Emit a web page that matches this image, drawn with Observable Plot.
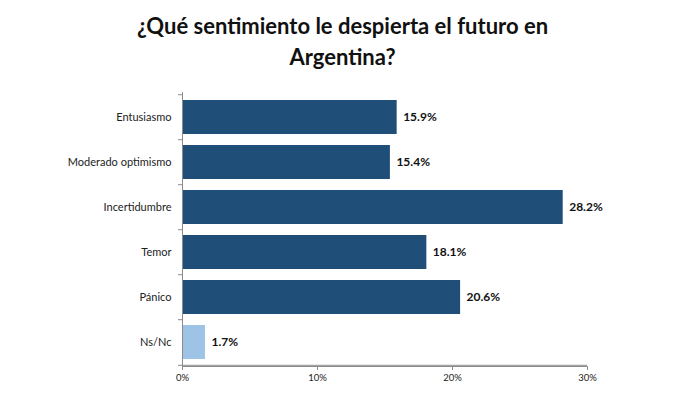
<!DOCTYPE html>
<html>
<head>
<meta charset="utf-8">
<script src="https://cdn.jsdelivr.net/npm/d3@7"></script>
<script src="https://cdn.jsdelivr.net/npm/@observablehq/plot@0.6"></script>
<style>
  html, body { margin: 0; padding: 0; background: #fff; }
  #wrap { width: 685px; height: 396px; position: relative; overflow: hidden; }
  #title { height: 80px; box-sizing: border-box; padding-top: 10px; text-align: center;
    font-family: Lato, "Open Sans", sans-serif; font-weight: 700; font-size: 22px; line-height: 31px; color: #111; }
  #chart svg { display: block; }
</style>
</head>
<body>
<div id="wrap">
  <div id="title">¿Qué sentimiento le despierta el futuro en<br>Argentina?</div>
  <div id="chart"></div>
</div>
<script>
const categories = ["Entusiasmo", "Moderado optimismo", "Incertidumbre", "Temor", "Pánico", "Ns/Nc"];
const values = [15.9, 15.4, 28.2, 18.1, 20.6, 1.7];
const kinds = ["main", "main", "main", "main", "main", "nsnc"];
const xTicks = [0, 10, 20, 30];

const data = categories.map((c, i) => ({category: c, value: values[i], kind: kinds[i]}));

const H = 316, mTop = 12, mBottom = 30;
const pInner = 0.25, pOuter = 0.13;
const step = (H - mTop - mBottom) / (categories.length - pInner + 2 * pOuter);
const last = categories[categories.length - 1];

const chart = Plot.plot({
  width: 685,
  height: H,
  marginLeft: 182,
  marginRight: 98,
  marginTop: mTop,
  marginBottom: mBottom,
  style: {fontFamily: "Lato, 'Open Sans', sans-serif", color: "#222", background: "transparent"},
  x: {domain: [0, 30], ticks: xTicks, tickFormat: d => d + "%"},
  y: {domain: categories, paddingInner: pInner, paddingOuter: pOuter},
  color: {domain: ["main", "nsnc"], range: ["#1f4e79", "#9dc3e6"]},
  marks: [
    Plot.barX(data, {y: "category", x: "value", fill: "kind"}),
    Plot.text(data, {y: "category", x: "value", text: d => d.value.toFixed(1) + "%", textAnchor: "start", dx: 6,
      fontWeight: "bold", fontSize: 12, fill: "#111"}),
    Plot.ruleX([0], {stroke: "#8c8c8c"}),
    Plot.ruleY(categories, {y: d => d, x1: -0.3, x2: 0, dy: -step / 2, stroke: "#8c8c8c"}),
    Plot.ruleY(categories.slice(-1), {y: d => d, x1: -0.3, x2: 30, dy: step / 2, stroke: "#8c8c8c"}),
    Plot.axisX({ticks: xTicks, tickFormat: d => d + "%", tickSize: 4, tickPadding: 4, stroke: "#8c8c8c", fontSize: 9.5, fill: "#222", label: null}),
    Plot.axisY({tickSize: 0, tickPadding: 11, fontSize: 11, fill: "#222", label: null}),
    Plot.frame({anchor: "bottom", stroke: "#8c8c8c"})
  ]
});
document.getElementById("chart").appendChild(chart);
</script>
</body>
</html>
